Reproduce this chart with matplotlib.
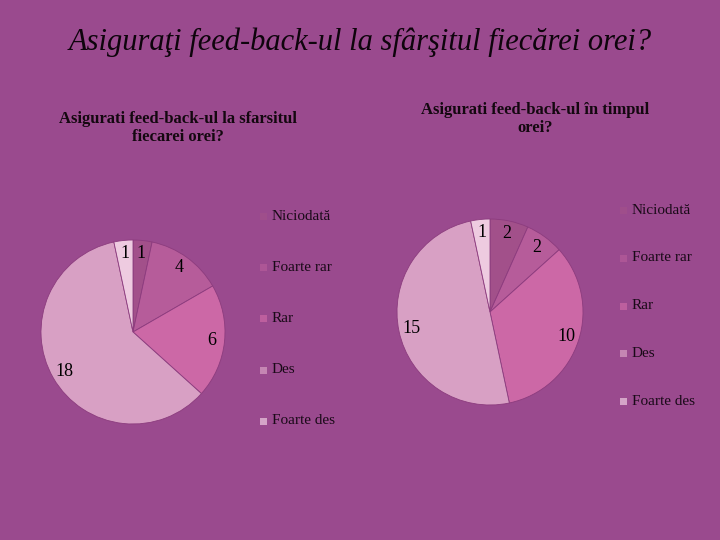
import matplotlib.pyplot as plt
from matplotlib.patches import Rectangle

categories = ['Niciodată', 'Foarte rar', 'Rar', 'Des', 'Foarte des']
values_end = [1, 4, 6, 18, 1]
values_during = [2, 2, 10, 15, 1]
colors = ['#a2508a', '#b65c9a', '#cc68a6', '#d8a0c4', '#eecbe0']

title = 'Asiguraţi feed-back-ul la sfârşitul fiecărei orei?'
sub_end = 'Asigurati feed-back-ul la sfarsitul\nfiecarei orei?'
sub_during = 'Asigurati feed-back-ul în timpul\norei?'

bg = '#9a4a8e'
serif = ['Liberation Serif', 'DejaVu Serif']

fig = plt.figure(figsize=(7.2, 5.4), dpi=100)
fig.patch.set_facecolor(bg)

W, H = 720, 540


def px_axes(cx, cy, r):
    return fig.add_axes([(cx - r) / W, (H - cy - r) / H, 2 * r / W, 2 * r / H])


def draw_pie(ax, vals):
    wedges, texts = ax.pie(vals, colors=colors, startangle=90, counterclock=False,
                           labels=[str(v) for v in vals], labeldistance=0.86,
                           wedgeprops=dict(edgecolor='#8c3c7e', linewidth=0.6),
                           textprops=dict(family=serif, fontsize=13, color='black',
                                          ha='center', va='center'))
    ax.set_xlim(-1, 1)
    ax.set_ylim(-1, 1)
    ax.set_aspect('equal')
    ax.set_facecolor('none')
    return wedges


def draw_legend(x, y0, step):
    for i, lab in enumerate(categories):
        y = y0 + i * step
        fig.patches.append(Rectangle(((x - 4) / W, (H - y - 4) / H), 7 / W, 7 / H,
                                     transform=fig.transFigure, facecolor=colors[i],
                                     edgecolor='none', alpha=0.7))
        fig.text((x + 8) / W, (H - y) / H, lab, family=serif, fontsize=11,
                 ha='left', va='center', color='#1a0a18')


ax1 = px_axes(133, 332, 92)
draw_pie(ax1, values_end)
ax2 = px_axes(490, 312, 93)
draw_pie(ax2, values_during)

draw_legend(264, 216, 51.2)
draw_legend(624, 210, 47.8)

fig.text(360 / W, (H - 42) / H, title, family=serif, style='italic', fontsize=22,
         ha='center', va='center', color='#0e040c')
fig.text(178 / W, (H - 128) / H, sub_end, family=serif, fontsize=12, weight='bold',
         ha='center', va='center', linespacing=1.1, color='#140810')
fig.text(535 / W, (H - 119) / H, sub_during, family=serif, fontsize=12, weight='bold',
         ha='center', va='center', linespacing=1.1, color='#140810')

fig.savefig('out.png', dpi=100, facecolor=bg)
